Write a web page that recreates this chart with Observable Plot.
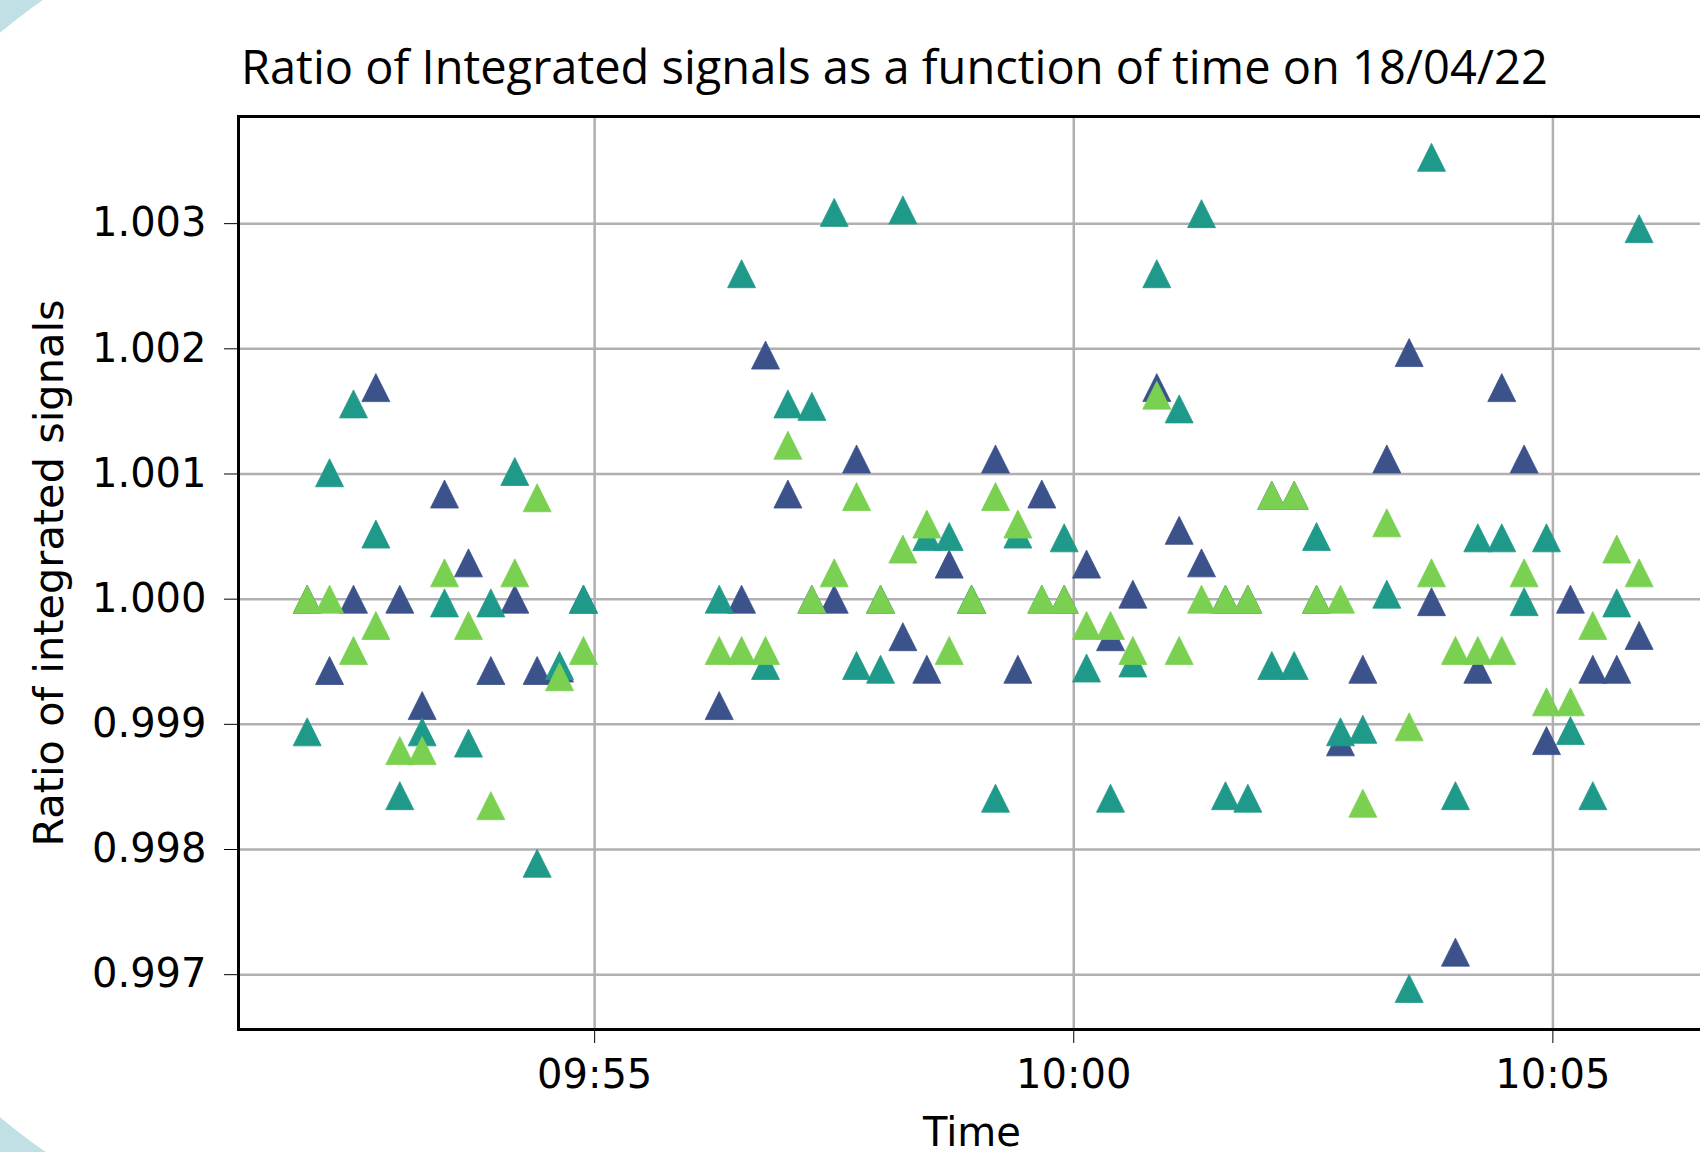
<!DOCTYPE html>
<html>
<head>
<meta charset="utf-8">
<script src="https://cdn.jsdelivr.net/npm/d3@7"></script>
<script src="https://cdn.jsdelivr.net/npm/@observablehq/plot@0.6"></script>
<style>
  html, body { margin: 0; padding: 0; background: #fff; overflow: hidden; width: 1700px; height: 1152px; }
  #deco { position: absolute; left: 0; top: 0; width: 80px; height: 1152px;
    background: radial-gradient(circle 704px at 449px 575px, #ffffff 703.5px, #c0e0e6 704.5px); }
  #title { position: absolute; left: 241px; top: 43px; font-family: "Open Sans", sans-serif; font-size: 47px; line-height: 47px; color: #000; white-space: nowrap; }
  #chart { position: absolute; left: 0; top: 100px; width: 1760px; }
  #chart svg { max-width: none !important; }
  #ylabel { position: absolute; left: 49px; top: 573px; transform: translate(-50%, -50%) rotate(-90deg); font-family: "DejaVu Sans", sans-serif; font-size: 41.5px; line-height: 41.5px; color: #000; white-space: nowrap; }
  #xlabel { position: absolute; left: 972px; top: 1112px; transform: translateX(-50%); font-family: "DejaVu Sans", sans-serif; font-size: 40px; line-height: 40px; color: #000; white-space: nowrap; }
</style>
</head>
<body>
<div id="deco"></div>
<div id="title">Ratio of Integrated signals as a function of time on 18/04/22</div>
<div id="chart"></div>
<div id="ylabel">Ratio of integrated signals</div>
<div id="xlabel">Time</div>
<script>
const times = [
  "09:52:00","09:52:14","09:52:29","09:52:43","09:52:58","09:53:12","09:53:26","09:53:41","09:53:55","09:54:10","09:54:24","09:54:38","09:54:53",
  "09:56:18","09:56:32","09:56:47","09:57:01","09:57:16","09:57:30","09:57:44","09:57:59","09:58:13","09:58:28","09:58:42","09:58:56","09:59:11","09:59:25",
  "09:59:40","09:59:54","10:00:08","10:00:23","10:00:37","10:00:52","10:01:06","10:01:20","10:01:35","10:01:49","10:02:04","10:02:18","10:02:32","10:02:47",
  "10:03:01","10:03:16","10:03:30","10:03:44","10:03:59","10:04:13","10:04:28","10:04:42","10:04:56","10:05:11","10:05:25","10:05:40","10:05:54"
];
const seriesBlue = [
  1.000,0.99943,1.000,1.00169,1.000,0.99915,1.00084,1.00029,0.99943,1.000,0.99943,0.99945,1.000,
  0.99915,1.000,1.00195,1.00084,1.000,1.000,1.00112,1.000,0.9997,0.99944,1.00028,1.000,1.00112,0.99944,
  1.00084,1.000,1.00028,0.9997,1.00004,1.00169,1.00055,1.00029,1.000,1.000,1.00083,1.00083,1.000,0.99886,
  0.99944,1.00112,1.00197,0.99998,0.99718,0.99944,1.00169,1.00112,0.99887,1.000,0.99944,0.99944,0.99971
];
const seriesTeal = [
  0.99894,1.00101,1.00156,1.00052,0.99843,0.99894,0.99997,0.99885,0.99997,1.00102,0.99789,0.99947,1.000,
  1.000,1.0026,0.99947,1.00156,1.00154,1.00309,0.99947,0.99944,1.00311,1.0005,1.0005,1.000,0.99841,1.00052,
  1.000,1.00049,0.99945,0.99841,0.99949,1.0026,1.00152,1.00308,0.99843,0.99841,0.99947,0.99947,1.0005,0.99894,
  0.99896,1.00004,0.99689,1.00353,0.99843,1.00049,1.00049,0.99998,1.00049,0.99895,0.99843,0.99997,1.00296
];
const seriesGreen = [
  1.000,1.000,0.99959,0.99979,0.99879,0.99879,1.00021,0.99979,0.99835,1.00021,1.00081,0.99938,0.99959,
  0.99959,0.99959,0.99959,1.00123,1.000,1.00021,1.00082,1.000,1.0004,1.0006,0.99959,1.000,1.00082,1.0006,
  1.000,1.000,0.99979,0.99979,0.99959,1.00163,0.99959,1.000,1.000,1.000,1.00083,1.00083,1.000,1.000,
  0.99837,1.00061,0.99898,1.00021,0.99959,0.99959,0.99959,1.00021,0.99918,0.99918,0.99979,1.0004,1.00021
];
const xTickLabels = ["09:55","10:00","10:05"];
const yTicks = [0.997,0.998,0.999,1.000,1.001,1.002,1.003];

const parseT = s => new Date(`2022-04-18T${s.length === 5 ? s + ":00" : s}Z`);
const tDates = times.map(parseT);
const xTicks = xTickLabels.map(parseT);

function build(values) { return values.map((v, i) => ({t: tDates[i], v})); }
const blue = build(seriesBlue), teal = build(seriesTeal), green = build(seriesGreen);

const tri = {
  draw(ctx, size) {
    const r = Math.sqrt(size / Math.PI);
    ctx.moveTo(0, -r);
    ctx.lineTo(r, r);
    ctx.lineTo(-r, r);
    ctx.closePath();
  }
};

const gridColor = "#b0b0b0";
const chart = Plot.plot({
  width: 1760,
  height: 1052,
  marginLeft: 238,
  marginRight: 0,
  marginTop: 16,
  marginBottom: 123,
  style: {fontFamily: "DejaVu Sans, sans-serif", fontSize: "40px", color: "#000", background: "transparent", maxWidth: "none"},
  x: {type: "utc", domain: [parseT("09:51:17"), parseT("10:07:10")], ticks: xTicks, tickFormat: d3.utcFormat("%H:%M"), tickSize: 14, tickPadding: 16, label: null},
  y: {domain: [0.996562, 1.003856], ticks: yTicks, tickFormat: d3.format(".3f"), tickSize: 14, tickPadding: 18, label: null},
  marks: [
    Plot.ruleX(xTicks, {stroke: gridColor, strokeWidth: 2.5}),
    Plot.ruleY(yTicks, {stroke: gridColor, strokeWidth: 2.5}),
    Plot.dot(blue, {x: "t", y: "v", symbol: tri, r: 14, fill: "#3b528b", stroke: "#3b528b", strokeWidth: 0.8}),
    Plot.dot(teal, {x: "t", y: "v", symbol: tri, r: 14, fill: "#1f9a8a", stroke: "#1f9a8a", strokeWidth: 0.8}),
    Plot.dot(green, {x: "t", y: "v", symbol: tri, r: 14, fill: "#7ad151", stroke: "#7ad151", strokeWidth: 0.8}),
    Plot.frame({stroke: "#000", strokeWidth: 3})
  ]
});
chart.style.maxWidth = "none";
document.getElementById("chart").appendChild(chart);
d3.select(chart).selectAll("[aria-label='x-axis'] line, [aria-label='y-axis'] line, [aria-label='x-axis tick'] line, [aria-label='y-axis tick'] line").attr("stroke-width", 3);
</script>
</body>
</html>
